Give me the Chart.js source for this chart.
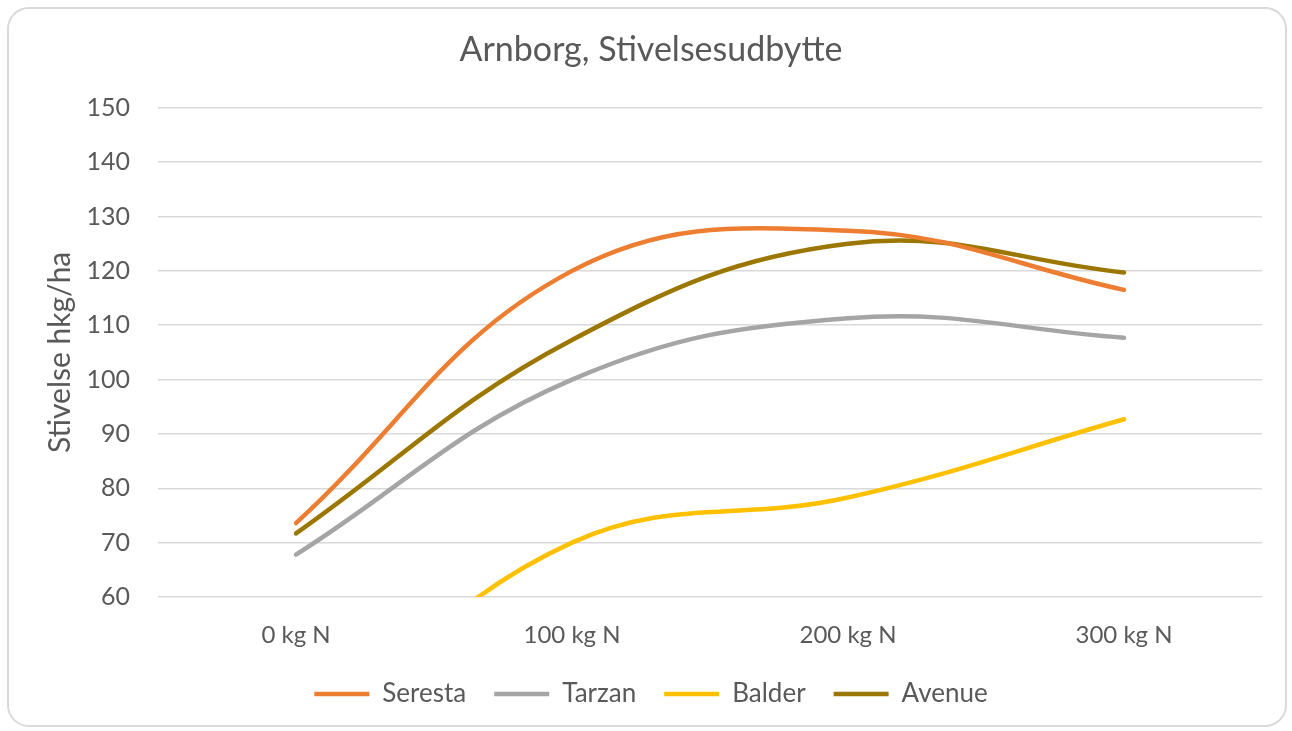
<!DOCTYPE html>
<html>
<head>
<meta charset="utf-8">
<script src="https://cdn.jsdelivr.net/npm/chart.js@4.4.1/dist/chart.umd.min.js"></script>
<style>
  html, body { margin: 0; padding: 0; background: #ffffff; }
  #wrap { position: relative; width: 1292px; height: 731px; }
  #frame { position: absolute; left: 7px; top: 7px; width: 1276px; height: 716px;
           border: 2px solid #d9d9d9; border-radius: 22px; pointer-events: none; }
</style>
</head>
<body>
<div id="wrap">
  <canvas id="c" width="1292" height="731"></canvas>
  <div id="frame"></div>
</div>
<script>
const categories = ['0 kg N', '100 kg N', '200 kg N', '300 kg N'];
const seresta = [73.6, 120, 127.4, 116.5];
const tarzan  = [67.8, 100, 111.3, 107.7];
const balder  = [32, 70, 78.3, 92.7];
const avenue  = [71.7, 107.3, 125, 119.7];
const yTicks = [60, 70, 80, 90, 100, 110, 120, 130, 140, 150];

const FONT = 'Lato, "Open Sans", sans-serif';
const TXT = '#595959';

function ds(label, data, color) {
  return {
    label, data,
    borderColor: color, backgroundColor: color,
    borderWidth: 4.5, borderCapStyle: 'round', borderJoinStyle: 'round',
    pointRadius: 0, pointHoverRadius: 0, tension: 0.4, fill: false
  };
}

new Chart(document.getElementById('c'), {
  type: 'line',
  data: {
    labels: categories,
    datasets: [
      ds('Seresta', seresta, '#ED7D31'),
      ds('Tarzan', tarzan, '#A5A5A5'),
      ds('Balder', balder, '#FFC000'),
      ds('Avenue', avenue, '#9B7700')
    ]
  },
  options: {
    responsive: false,
    animation: false,
    layout: { padding: { left: 40, right: 30, top: 0, bottom: 14 } },
    plugins: {
      title: {
        display: true,
        text: 'Arnborg, Stivelsesudbytte',
        color: TXT,
        font: { family: FONT, size: 34, weight: 'normal' },
        padding: { top: 30, bottom: 37 }
      },
      legend: {
        position: 'bottom',
        labels: {
          color: TXT,
          font: { family: FONT, size: 26 },
          usePointStyle: true,
          pointStyle: 'line',
          pointStyleWidth: 55,
          padding: 28
        }
      },
      tooltip: { enabled: false }
    },
    scales: {
      x: {
        offset: true,
        afterFit: (s) => { s.height = 56; },
        grid: { display: false, drawTicks: false, offset: true },
        border: { display: false },
        ticks: { color: TXT, font: { family: FONT, size: 24 }, padding: 24 }
      },
      y: {
        min: 60, max: 150,
        afterBuildTicks: (s) => { s.ticks = yTicks.map(v => ({ value: v })); },
        afterFit: (s) => { s.width = 118; },
        grid: { color: '#d9d9d9', lineWidth: 1.5, drawTicks: false },
        border: { display: false },
        ticks: { color: TXT, font: { family: FONT, size: 25 }, padding: 28 },
        title: {
          display: true, text: 'Stivelse hkg/ha', color: TXT,
          font: { family: FONT, size: 30 }, padding: { top: 2, bottom: 0 }
        }
      }
    }
  }
});
</script>
</body>
</html>
